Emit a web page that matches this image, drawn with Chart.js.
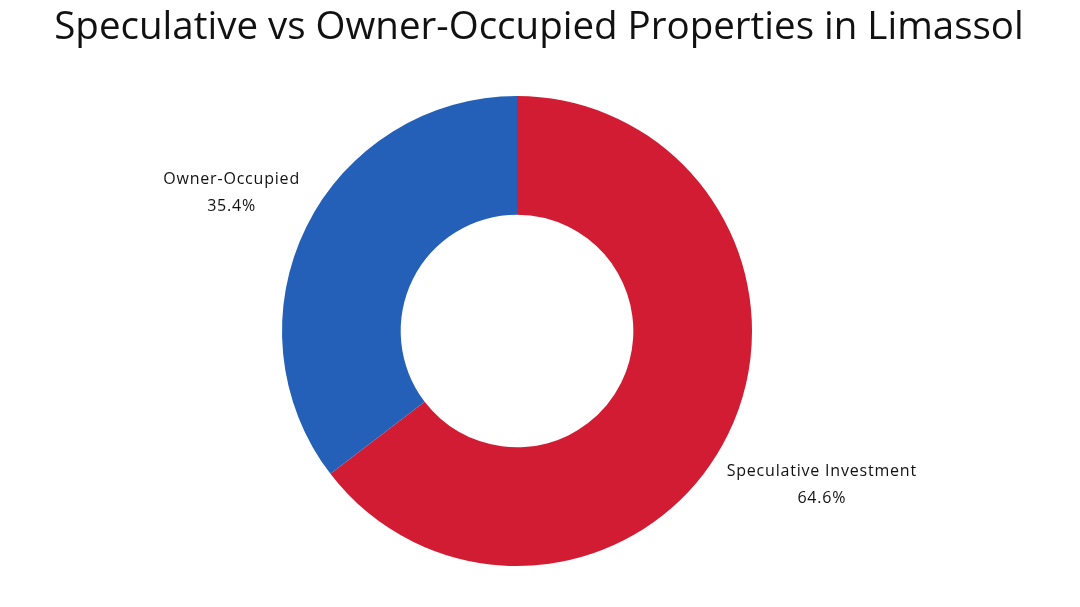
<!DOCTYPE html>
<html>
<head>
<meta charset="utf-8">
<script src="https://cdn.jsdelivr.net/npm/chart.js@4.4.0/dist/chart.umd.min.js"></script>
<style>
html,body{margin:0;padding:0;background:#fff;}
#wrap{width:1080px;height:607px;position:relative;}
</style>
</head>
<body>
<div id="wrap"><canvas id="c" width="1080" height="607"></canvas></div>
<script>
const categories = ["Speculative Investment", "Owner-Occupied"];
const values = [64.6, 35.4];
const colors = ["#D21C33", "#2460B8"];
const titleText = "Speculative vs Owner-Occupied Properties in Limassol";
const FONT = "'Open Sans', sans-serif";

const titlePlugin = {
  id: 'centeredTitle',
  afterDraw(chart) {
    const ctx = chart.ctx;
    ctx.save();
    ctx.font = "38.5px " + FONT;
    ctx.fillStyle = "#111";
    ctx.textAlign = "center";
    ctx.textBaseline = "middle";
    ctx.fillText(titleText, chart.width / 2 - 1, 28);
    ctx.restore();
  }
};

const outsideLabels = {
  id: 'outsideLabels',
  afterDatasetsDraw(chart) {
    const ctx = chart.ctx;
    const meta = chart.getDatasetMeta(0);
    ctx.save();
    ctx.font = "16px " + FONT;
    try { ctx.letterSpacing = "0.8px"; } catch (e) {}
    ctx.fillStyle = "#111";
    ctx.textBaseline = "middle";
    ctx.textAlign = "center";
    meta.data.forEach((arc, i) => {
      const p = arc.getProps(['x','y','startAngle','endAngle','outerRadius'], true);
      const mid = (p.startAngle + p.endAngle) / 2;
      const c = Math.cos(mid), s = Math.sin(mid);
      const lines = [categories[i], values[i].toFixed(1) + "%"];
      const w = Math.max(...lines.map(t => ctx.measureText(t).width));
      const edgeX = p.x + c * p.outerRadius * (c < 0 ? 1.03 : 0.995);
      const cx = c < 0 ? edgeX - w / 2 : edgeX + w / 2;
      const cy = p.y + s * p.outerRadius * 1.4 + 8;
      const lh = 27;
      lines.forEach((t, k) => {
        ctx.fillText(t, cx, cy + (k - (lines.length - 1) / 2) * lh);
      });
    });
    ctx.restore();
  }
};

new Chart(document.getElementById('c'), {
  type: 'doughnut',
  data: {
    labels: categories,
    datasets: [{
      data: values,
      backgroundColor: colors,
      borderWidth: 0,
      hoverOffset: 0
    }]
  },
  options: {
    responsive: false,
    animation: false,
    cutout: '49.5%',
    layout: { padding: { top: 96, bottom: 41, left: 0, right: 46 } },
    plugins: {
      legend: { display: false },
      tooltip: { enabled: false },
      title: { display: false }
    }
  },
  plugins: [outsideLabels, titlePlugin]
});
</script>
</body>
</html>
